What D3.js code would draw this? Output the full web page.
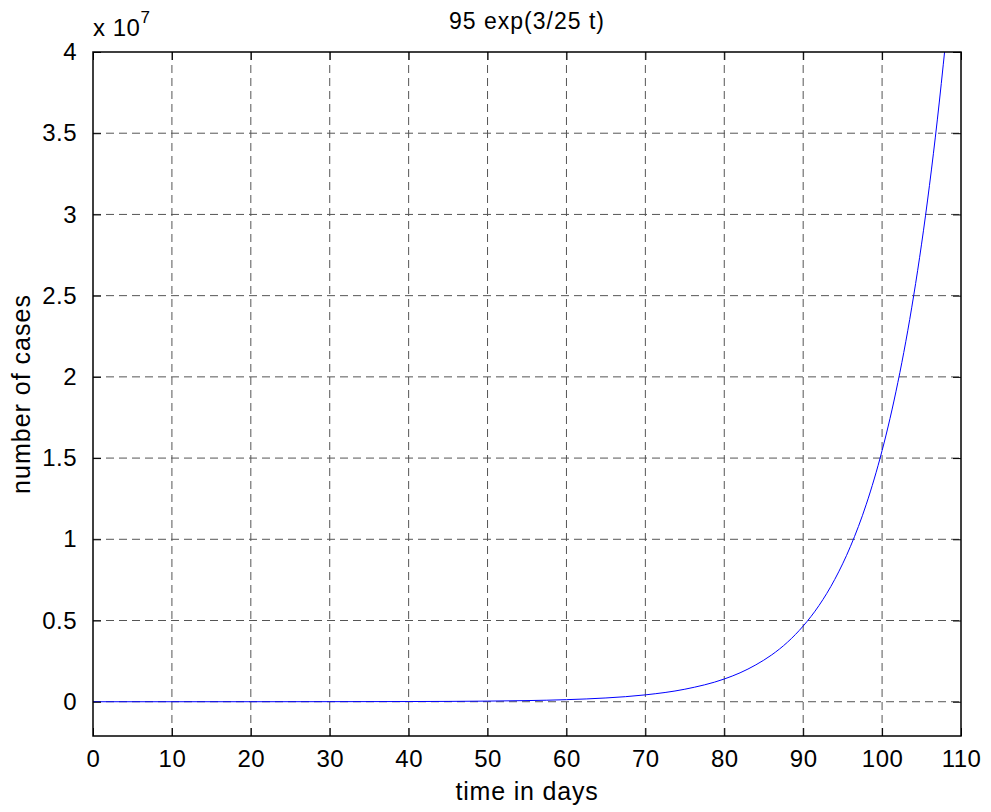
<!DOCTYPE html>
<html>
<head>
<meta charset="utf-8">
<script src="https://cdn.jsdelivr.net/npm/d3@7"></script>
<style>
  body { margin: 0; background: #fff; }
  svg text { font-family: "Liberation Sans", Arial, sans-serif; fill: #000; }
</style>
</head>
<body>
<svg id="chart" width="991" height="812"></svg>
<script>
// values
const days = [0, 10, 20, 30, 40, 50, 55, 60, 65, 70, 75, 80, 82, 84, 86, 88, 90, 92, 94, 96, 98,
              100, 101, 102, 103, 104, 105, 106, 107, 108];
const cases = [95, 315, 1050, 3480, 11500, 38300, 69800, 127000, 232000, 422000, 770000,
               1400000, 1780000, 2270000, 2880000, 3660000, 4660000, 5920000, 7530000, 9570000,
               12160000, 15460000, 17430000, 19660000, 22160000, 24990000, 28170000, 31770000,
               35820000, 40380000];
const xTicks = [0, 10, 20, 30, 40, 50, 60, 70, 80, 90, 100, 110];
const yTicks = [0, 0.5e7, 1e7, 1.5e7, 2e7, 2.5e7, 3e7, 3.5e7, 4e7];
const titleText = '95 exp(3/25 t)';
const xLabel = 'time in days';
const yLabel = 'number of cases';

const svg = d3.select('#chart');
const plotL = 93, plotR = 961, plotT = 52, plotB = 736;

const x = d3.scaleLinear().domain([0, 110]).range([plotL, plotR]);
const y = d3.scaleLinear().domain([-0.211e7, 4e7]).range([plotB, plotT]);

// grid
const grid = svg.append('g')
  .attr('stroke', '#555')
  .attr('stroke-width', 1)
  .attr('stroke-dasharray', '8,5');
grid.selectAll('.vg')
  .data(xTicks.slice(1, -1))
  .enter().append('line')
  .attr('x1', d => x(d)).attr('x2', d => x(d))
  .attr('y1', plotT).attr('y2', plotB);
grid.selectAll('.hg')
  .data(yTicks.slice(0, -1))
  .enter().append('line')
  .attr('x1', plotL).attr('x2', plotR)
  .attr('y1', d => y(d)).attr('y2', d => y(d));

// curve
svg.append('clipPath').attr('id', 'clip')
  .append('rect')
  .attr('x', plotL).attr('y', plotT)
  .attr('width', plotR - plotL).attr('height', plotB - plotT);

const pts = days.map((d, i) => [d, cases[i]]);
const line = d3.line().x(d => x(d[0])).y(d => y(d[1])).curve(d3.curveMonotoneX);
svg.append('path')
  .attr('clip-path', 'url(#clip)')
  .attr('d', line(pts))
  .attr('fill', 'none')
  .attr('stroke', '#0000ff')
  .attr('stroke-width', 1);

// axes with inward ticks on all four sides
const tickLen = 8;
const fmtY = d => d3.format('~g')(d / 1e7);
svg.append('g')
  .attr('transform', `translate(0,${plotB})`)
  .call(d3.axisBottom(x).tickValues(xTicks).tickSizeInner(-tickLen).tickSizeOuter(0).tickPadding(14))
  .call(g => g.select('.domain').remove());
svg.append('g')
  .attr('transform', `translate(0,${plotT})`)
  .call(d3.axisTop(x).tickValues(xTicks).tickSizeInner(-tickLen).tickSizeOuter(0).tickFormat(''))
  .call(g => g.select('.domain').remove());
svg.append('g')
  .attr('transform', `translate(${plotL},0)`)
  .call(d3.axisLeft(y).tickValues(yTicks).tickFormat(fmtY).tickSizeInner(-tickLen).tickSizeOuter(0).tickPadding(16))
  .call(g => g.select('.domain').remove());
svg.append('g')
  .attr('transform', `translate(${plotR},0)`)
  .call(d3.axisRight(y).tickValues(yTicks).tickSizeInner(-tickLen).tickSizeOuter(0).tickFormat(''))
  .call(g => g.select('.domain').remove());

svg.selectAll('.tick line').attr('stroke', '#000').attr('stroke-width', 1);
svg.selectAll('.tick text')
  .style('font-size', '24px')
  .style('letter-spacing', '0.5px')
  .style('font-family', '"Liberation Sans", Arial, sans-serif');

// box
svg.append('rect')
  .attr('x', plotL).attr('y', plotT)
  .attr('width', plotR - plotL).attr('height', plotB - plotT)
  .attr('fill', 'none')
  .attr('stroke', '#000')
  .attr('stroke-width', 1.5);

// exponent label
const ex = svg.append('text').attr('x', 93).attr('y', 36)
  .style('font-size', '24px').style('letter-spacing', '0.5px');
ex.append('tspan').text('x 10');
ex.append('tspan').attr('dy', -13).style('font-size', '17px').text('7');

// title and axis labels
svg.append('text')
  .attr('x', (plotL + plotR) / 2).attr('y', 29)
  .attr('text-anchor', 'middle')
  .style('font-size', '23px')
  .style('letter-spacing', '1px')
  .text(titleText);

svg.append('text')
  .attr('x', (plotL + plotR) / 2).attr('y', 800)
  .attr('text-anchor', 'middle')
  .style('font-size', '25px')
  .style('letter-spacing', '0.8px')
  .text(xLabel);

svg.append('text')
  .attr('transform', `translate(30,${(plotT + plotB) / 2}) rotate(-90)`)
  .attr('text-anchor', 'middle')
  .style('font-size', '25px')
  .style('letter-spacing', '1px')
  .text(yLabel);
</script>
</body>
</html>
